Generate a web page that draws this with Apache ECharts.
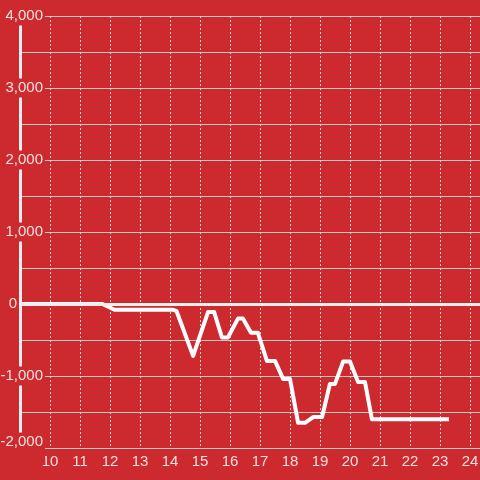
<!DOCTYPE html>
<html>
<head>
<meta charset="utf-8">
<script src="https://cdn.jsdelivr.net/npm/echarts@6/dist/echarts.min.js"></script>
<style>
  html, body { margin: 0; padding: 0; background: #cc2a2e; }
  #chart { width: 480px; height: 480px; }
</style>
</head>
<body>
<div id="chart"></div>
<script>
// hours of the day and running value
var hours = [9, 11.75, 12.15, 14.1, 14.22, 14.77, 15.27, 15.47, 15.73, 15.93, 16.27, 16.43, 16.7, 16.93,
    17.23, 17.5, 17.77, 18.0, 18.27, 18.5, 18.77, 19.07, 19.33, 19.5, 19.77, 20.0, 20.27, 20.5, 20.73, 23.3];
var values = [0, 0, -80, -80, -100, -720, -110, -110, -465, -465, -200, -200, -400, -400,
    -790, -790, -1040, -1040, -1650, -1650, -1570, -1570, -1110, -1110, -800, -800, -1085, -1085, -1600, -1600];
var xTicks = [10, 11, 12, 13, 14, 15, 16, 17, 18, 19, 20, 21, 22, 23, 24];
var yTicks = [-2000, -1000, 0, 1000, 2000, 3000, 4000];

var red = '#cc2a2e';
var labelColor = 'rgba(255,255,255,0.85)';
var dashColor = '#e4d4d4';

var points = hours.map(function (h, i) { return [h, values[i]]; });

// one colour per vertical line: hide the ones at 9 and at the right edge
var dashColors = ['rgba(0,0,0,0)'].concat(xTicks.map(function () { return dashColor; }), ['rgba(0,0,0,0)']);

var chart = echarts.init(document.getElementById('chart'));
chart.setOption({
    backgroundColor: red,
    animation: false,
    textStyle: { fontFamily: 'Liberation Sans, Arial, sans-serif' },
    grid: { left: 20, right: 0, top: 16, bottom: 32, containLabel: false, outerBoundsMode: 'none' },
    xAxis: {
        type: 'value',
        min: 9,
        max: 24 + 1 / 3,
        interval: 1,
        axisLine: { show: false },
        axisTick: { show: false },
        axisLabel: {
            color: labelColor,
            fontSize: 15,
            margin: 6,
            formatter: function (v) {
                return xTicks.indexOf(v) >= 0 ? String(v) : '';
            }
        },
        splitLine: { show: true, lineStyle: { color: dashColors, width: 1, type: [2, 2] } }
    },
    yAxis: [{
        // horizontal grid lines every 500
        type: 'value',
        position: 'left',
        min: -2000,
        max: 4000,
        interval: 500,
        axisLine: { show: false },
        axisTick: { show: false },
        axisLabel: { show: false },
        splitLine: { show: true, lineStyle: { color: '#cfc6c6', width: 1 } }
    }, {
        // labels + thick axis line
        type: 'value',
        position: 'left',
        offset: 0,
        min: -2000,
        max: 4000,
        interval: 1000,
        z: 5,
        axisLine: { show: true, onZero: false, lineStyle: { color: '#f2eeee', width: 3 } },
        axisTick: { show: false },
        splitLine: { show: false },
        axisLabel: {
            color: labelColor,
            fontSize: 15,
            align: 'right',
            margin: -25,
            formatter: function (v) {
                if (yTicks.indexOf(v) < 0) return '';
                var s = v.toLocaleString('en-US');
                if (v === 0) return '{z|' + s + '}';
                if (v === -2000) return '{m|' + s + '}';
                return '{a|' + s + '}';
            },
            rich: {
                a: { color: labelColor, fontSize: 15, backgroundColor: red, padding: [2, 2, 2, 2] },
                m: { color: labelColor, fontSize: 15, backgroundColor: red, padding: [2, 2, 14, 2] },
                z: { color: labelColor, fontSize: 15, padding: [0, 28, 0, 0] }
            }
        }
    }],
    series: [{
        type: 'line',
        data: points,
        showSymbol: false,
        lineStyle: { color: '#ffffff', width: 4, join: 'round' },
        markLine: {
            silent: true,
            symbol: 'none',
            label: { show: false },
            lineStyle: { color: '#f2eeee', width: 3, type: 'solid' },
            data: [{ yAxis: 0 }]
        }
    }]
});
</script>
</body>
</html>
